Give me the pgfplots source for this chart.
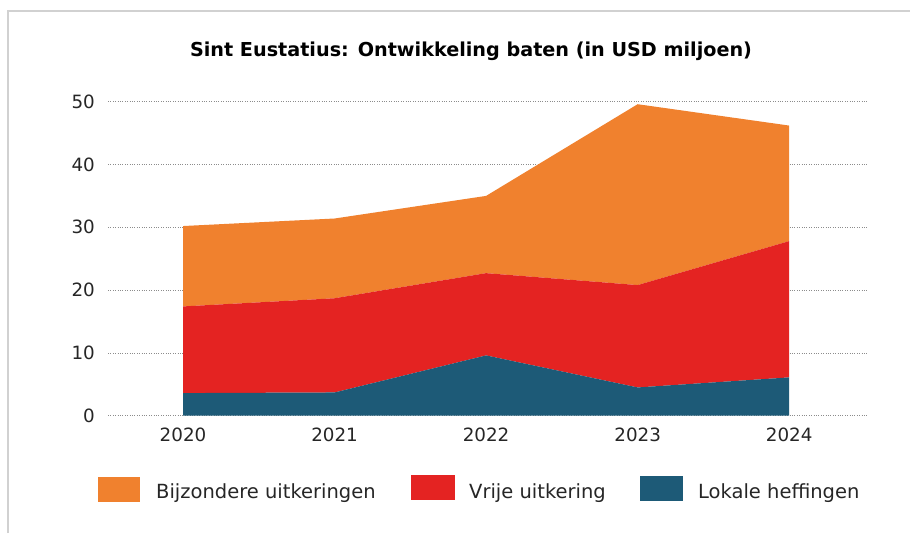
\documentclass[border=0pt]{standalone}
\usepackage{fontspec}
\setmainfont{DejaVu Sans}
\usepackage{pgfplots}
\pgfplotsset{compat=1.18}
\definecolor{oranje}{HTML}{F0812E}
\definecolor{rood}{HTML}{E42322}
\definecolor{blauw}{HTML}{1D5A77}
\definecolor{raster}{HTML}{8C8C8C}

\begin{document}
\begin{tikzpicture}[x=1pt,y=1pt]
\path[use as bounding box, fill=white] (0,0) rectangle (910,533);
\draw[black!18, line width=1.5pt] (8,0) -- (8,522) -- (910,522);
\begin{axis}[
    at={(108pt,117.3pt)}, anchor=south west,
    scale only axis,
    width=760pt, height=314pt,
    xmin=-0.495, xmax=4.52,
    ymin=0, ymax=50,
    axis line style={draw=none},
    major tick length=0pt,
    xtick={0,1,2,3,4},
    xticklabels={2020,2021,2022,2023,2024},
    ytick={0,10,20,30,40,50},
    ymajorgrids=true,
    grid style={raster, dotted, line width=0.8pt},
    /pgf/number format/assume math mode=true,
    ticklabel style={font=\fontsize{18.3}{20}\selectfont, text=black!85},
    xticklabel style={anchor=north, inner sep=0pt, yshift=-12pt},
    yticklabel style={anchor=east, inner sep=0pt, xshift=-13pt},
    stack plots=y,
    clip=false,
]
\addplot[draw=none, fill=blauw] coordinates {
    (0,3.6) (1,3.7) (2,9.6) (3,4.5) (4,6.1)
} \closedcycle;
\addplot[draw=none, fill=rood] coordinates {
    (0,13.8) (1,15.0) (2,13.1) (3,16.3) (4,21.7)
} \closedcycle;
\addplot[draw=none, fill=oranje] coordinates {
    (0,12.8) (1,12.7) (2,12.3) (3,28.8) (4,18.4)
} \closedcycle;
\end{axis}

\node[font=\fontsize{19.2}{22}\selectfont\bfseries] at (471,482) {Sint Eustatius: Ontwikkeling baten (in USD miljoen)};

% legenda
\fill[oranje] (98,31) rectangle (140,56);
\node[anchor=base west, inner sep=0pt, font=\fontsize{19.5}{22}\selectfont, text=black!85] at (156,35) {Bijzondere uitkeringen};
\fill[rood] (411,33) rectangle (455,58);
\node[anchor=base west, inner sep=0pt, font=\fontsize{19.5}{22}\selectfont, text=black!85] at (469,35) {Vrije uitkering};
\fill[blauw] (640,32) rectangle (683,57);
\node[anchor=base west, inner sep=0pt, font=\fontsize{19.5}{22}\selectfont, text=black!85] at (698,35) {Lokale heffingen};
\end{tikzpicture}
\end{document}
